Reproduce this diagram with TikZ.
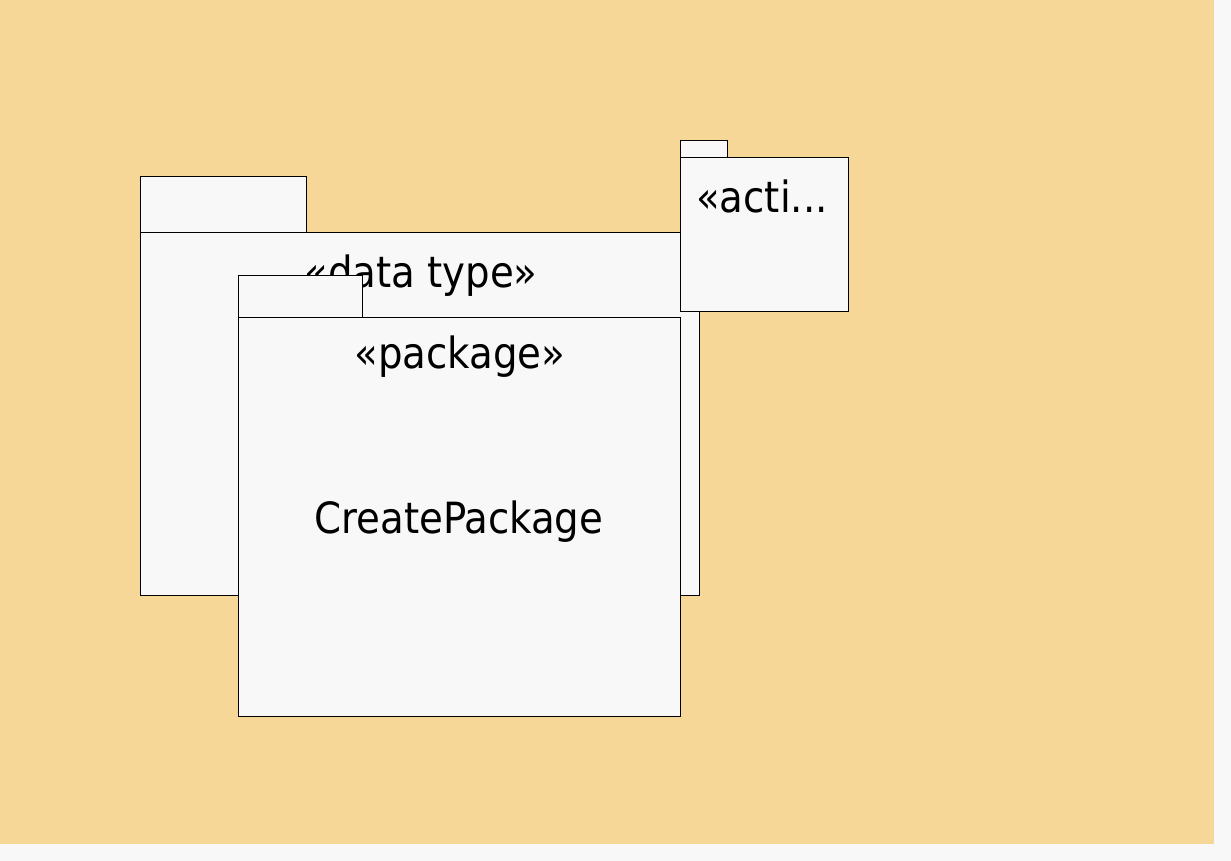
\documentclass[tikz,border=0pt]{standalone}
\usepackage{fontspec}
\setmainfont{DejaVu Sans Condensed}
\definecolor{bgorange}{HTML}{F6D797}
\definecolor{outergray}{HTML}{F8F8F8}
\definecolor{boxfill}{HTML}{F8F8F8}
\begin{document}
\begin{tikzpicture}[x=1pt,y=-1pt,
  pkg/.style={draw=black, fill=boxfill, line width=1pt, inner sep=0, anchor=north west},
  lbl/.style={inner sep=0, anchor=base, font=\fontsize{43}{50}\selectfont}]
\useasboundingbox (0,0) rectangle (1231,861);
\fill[outergray] (0,0) rectangle (1231,861);
\fill[bgorange] (0,0) rectangle (1214,844);
% data type package
\node[pkg, minimum width=166, minimum height=56] (dttab) at (140,176) {};
\node[pkg, minimum width=559, minimum height=363] (dtbody) at (140,232) {};
\node[lbl] (dtlbl) at (421,287) {«data type»};
% action package
\node[pkg, minimum width=47, minimum height=17] (actab) at (680,140) {};
\node[pkg, minimum width=168, minimum height=154] (acbody) at (680,157) {};
\node[lbl, anchor=base west] (aclbl) at (696,213) {«acti...};
% package
\node[pkg, minimum width=124, minimum height=42] (pktab) at (238,275) {};
\node[pkg, minimum width=442, minimum height=399] (pkbody) at (238,317) {};
\node[lbl] (pklbl) at (460,368) {«package»};
\node[lbl] (pkname) at (459,533) {CreatePackage};
\end{tikzpicture}
\end{document}
